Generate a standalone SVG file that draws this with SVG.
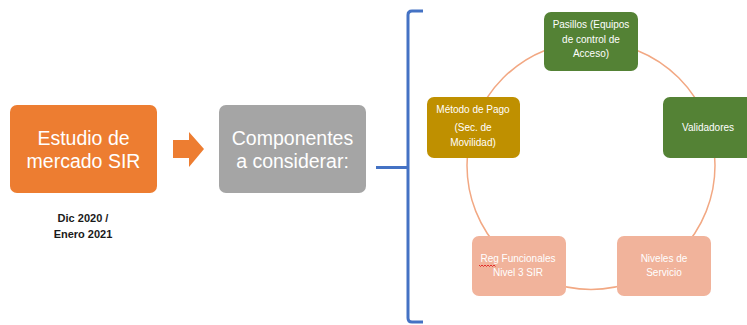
<svg xmlns="http://www.w3.org/2000/svg" width="747" height="325" viewBox="0 0 747 325">
<style>
.big{font-family:"Liberation Sans",Arial,sans-serif;font-size:19.5px;fill:#ffffff;text-anchor:middle}
.sm{font-family:"Liberation Sans",Arial,sans-serif;font-size:10px;fill:#ffffff;text-anchor:middle}
.date{font-family:"Liberation Sans",Arial,sans-serif;font-size:11px;font-weight:bold;fill:#1a1a1a;text-anchor:middle}
.green{fill:#548235}
.pink{fill:#F1B39B}
</style>
<rect width="747" height="325" fill="#ffffff"/>
<g id="connectors">
<circle cx="591" cy="165.5" r="124" fill="none" stroke="#F2A883" stroke-width="1.5"/>
<path d="M173,140 H189 V132 L204,149 L189,167 V158 H173 Z" fill="#ED7D31"/>
<path d="M423,11 H412 Q408,11 408,15 V318 Q408,322 412,322 H423 M376,167.5 H408" fill="none" stroke="#4472C4" stroke-width="3" stroke-linejoin="round"/>
</g>
<g id="estudio">
<rect x="10" y="105" width="147" height="88" rx="7" fill="#ED7D31"/>
<text class="big" x="83.5" y="145">Estudio de</text>
<text class="big" x="83.5" y="168">mercado SIR</text>
</g>
<g id="fecha">
<text class="date" x="83" y="222">Dic 2020 /</text>
<text class="date" x="83" y="238">Enero 2021</text>
</g>
<g id="componentes">
<rect x="219" y="105" width="147" height="88" rx="7" fill="#A5A5A5"/>
<text class="big" x="292.5" y="145">Componentes</text>
<text class="big" x="292.5" y="168">a considerar:</text>
</g>
<g id="pasillos">
<rect class="green" x="544" y="12" width="94" height="59" rx="7"/>
<text class="sm" x="591" y="28">Pasillos (Equipos</text>
<text class="sm" x="591" y="43">de control de</text>
<text class="sm" x="591" y="57">Acceso)</text>
</g>
<g id="validadores">
<rect class="green" x="663" y="97" width="94" height="61" rx="7"/>
<text class="sm" x="708" y="131">Validadores</text>
</g>
<g id="niveles">
<rect class="pink" x="617" y="236" width="94" height="60" rx="7"/>
<text class="sm" x="664" y="262">Niveles de</text>
<text class="sm" x="664" y="276">Servicio</text>
</g>
<g id="requisitos">
<rect class="pink" x="472" y="236" width="94" height="60" rx="7"/>
<text class="sm" x="518" y="262">Reg Funcionales</text>
<text class="sm" x="518" y="276">Nivel 3  SIR</text>
<path d="M479,265 l1.5,1.5 l1.5,-1.5 l1.5,1.5 l1.5,-1.5 l1.5,1.5 l1.5,-1.5 l1.5,1.5 l1.5,-1.5 l1.5,1.5 l1.5,-1.5 l1.5,1.5" fill="none" stroke="#E02020" stroke-width="0.9"/>
</g>
<g id="metodo">
<rect x="427" y="97" width="93" height="61" rx="7" fill="#BF9000"/>
<text class="sm" x="473" y="113">Método de Pago</text>
<text class="sm" x="473" y="131">(Sec. de</text>
<text class="sm" x="473" y="146">Movilidad)</text>
</g>
</svg>
